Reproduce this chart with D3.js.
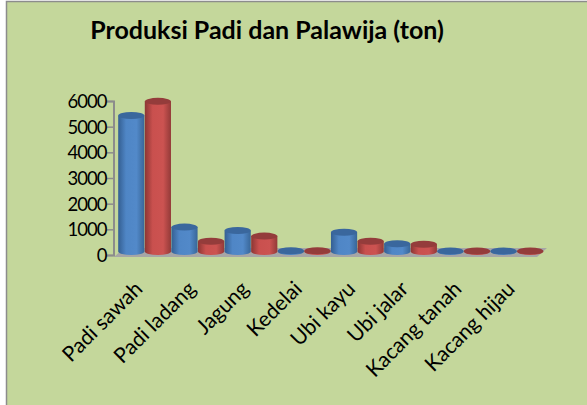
<!DOCTYPE html>
<html>
<head>
<meta charset="utf-8">
<script src="https://cdn.jsdelivr.net/npm/d3@7"></script>
<style>
  body { margin: 0; background: #fff; }
  text { font-family: Lato, sans-serif; fill: #000; }
</style>
</head>
<body>
<script>
// data
const categories = ['Padi sawah', 'Padi ladang', 'Jagung', 'Kedelai', 'Ubi kayu', 'Ubi jalar', 'Kacang tanah', 'Kacang hijau']
const seriesBlue = [5300, 950, 820, 30, 750, 300, 20, 20]
const seriesRed = [5850, 400, 600, 30, 400, 280, 20, 20]
const yTicks = [0, 1000, 2000, 3000, 4000, 5000, 6000]

const svgWidth = 587
const svgHeight = 405

let svg = d3.select('body').append('svg')
    .attr('width', svgWidth)
    .attr('height', svgHeight)
    .style('display', 'block')

// chart background, only top and left border are inside the picture
svg.append('rect')
    .attr('x', 6).attr('y', 1)
    .attr('width', 581).attr('height', 404)
    .style('fill', '#c4d79b')
svg.append('path')
    .attr('d', d3.line()([[6.5, 405], [6.5, 1.5], [587, 1.5]]))
    .style('fill', 'none')
    .style('stroke', '#8c8c8c')
    .style('stroke-width', 1.5)

svg.append('text')
    .text('Produksi Padi dan Palawija (ton)')
    .attr('x', 267).attr('y', 39)
    .attr('text-anchor', 'middle')
    .style('font-size', '25px')
    .style('font-weight', 700)

let xScale = d3.scaleBand().domain(categories).range([118, 543.5])
let seriesScale = d3.scaleBand().domain(['blue', 'red']).range([0, xScale.bandwidth()])
let yScale = d3.scaleLinear().domain([0, 6000]).range([255, 101])

// horizontal shading, makes the bars look round
let defs = svg.append('defs')
const shades = {
    blue: ['#345f92', '#4f86c6', '#5289c9', '#386698'],
    red: ['#8c3634', '#c9504e', '#cc5351', '#933a38']
}
Object.keys(shades).forEach(k => {
    let g = defs.append('linearGradient').attr('id', 'grad-' + k)
    g.append('stop').attr('offset', '0%').attr('stop-color', shades[k][0])
    g.append('stop').attr('offset', '30%').attr('stop-color', shades[k][1])
    g.append('stop').attr('offset', '70%').attr('stop-color', shades[k][2])
    g.append('stop').attr('offset', '100%').attr('stop-color', shades[k][3])
})
const topColor = { blue: '#3a679d', red: '#943c3b' }

// floor of the 3d plot
svg.append('path')
    .attr('d', d3.line()([[114, 257], [537, 257], [547, 248], [124, 248]]))
    .style('fill', '#a6a6a6')

// y axis
let yAxis = d3.axisLeft(yScale).tickValues(yTicks).tickSize(7).tickFormat(d3.format('d'))
let yG = svg.append('g').attr('transform', 'translate(113.5,0)').call(yAxis)
yG.select('.domain').style('stroke', '#8c8c8c').style('stroke-width', 2)
yG.selectAll('line').style('stroke', '#8c8c8c').style('stroke-width', 1.5)
// lato digits run wide, squeeze them a bit
yG.selectAll('text')
    .style('font-size', '18.5px')
    .style('letter-spacing', '-1px')
    .attr('x', -7).attr('dy', '0.35em')

// x axis labels
let xAxis = d3.axisBottom(xScale).tickSize(0)
let xG = svg.append('g').attr('transform', 'translate(0,257)').call(xAxis)
xG.select('.domain').remove()
xG.selectAll('text')
    .style('font-size', '21px')
    .style('text-anchor', 'end')
    .attr('dx', 0).attr('dy', 0)
    .attr('transform', 'translate(-3,31) rotate(-45)')

// cylinders
const baseLift = 3.5
const drawSeries = (key, values) => {
    let w = seriesScale.bandwidth()
    let rx = w / 2 - 0.2
    let ry = 3.5
    let g = svg.append('g').selectAll('g')
        .data(values)
        .join('g')
        .attr('transform', (d, i) => 'translate(' + (xScale(categories[i]) + seriesScale(key) + w / 2) + ',0)')
    g.append('path')
        .attr('d', d => {
            let top = yScale(d) - baseLift
            let bot = yScale(0) - baseLift
            return 'M' + (-rx) + ',' + top + 'L' + (-rx) + ',' + bot +
                'A' + rx + ',' + ry + ' 0 0 0 ' + rx + ',' + bot +
                'L' + rx + ',' + top + 'Z'
        })
        .style('fill', 'url(#grad-' + key + ')')
    g.append('ellipse')
        .attr('cx', 0)
        .attr('cy', d => yScale(d) - baseLift)
        .attr('rx', rx).attr('ry', ry)
        .style('fill', topColor[key])
}

// left to right so neighbours overlap the same way as the picture
drawSeries('blue', seriesBlue)
drawSeries('red', seriesRed)
</script>
</body>
</html>
